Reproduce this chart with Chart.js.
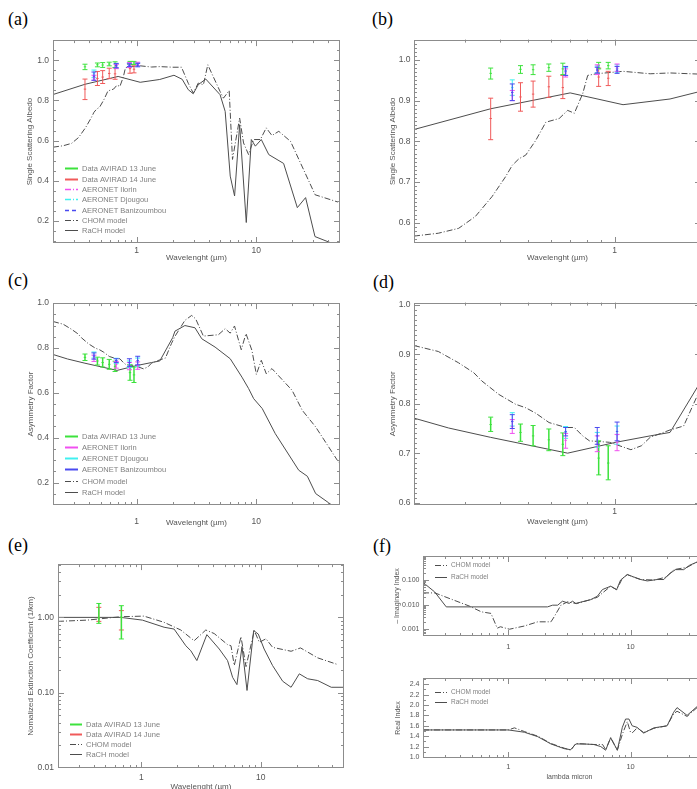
<!DOCTYPE html>
<html>
<head>
<meta charset="utf-8">
<title>Aerosol optical properties</title>
<script src="https://cdn.jsdelivr.net/npm/chart.js@4.4.0/dist/chart.umd.min.js"></script>
<style>
  html, body { margin: 0; padding: 0; background: #fff; overflow: hidden; }
  body { width: 697px; height: 789px; position: relative; }
  canvas { position: absolute; }
  .tag { position: absolute; font-family: "Liberation Serif", serif; font-size: 18px; color: #000; line-height: 1; }
</style>
</head>
<body>
<div class="tag" style="left:8px;top:10px">(a)</div>
<div class="tag" style="left:372px;top:10px">(b)</div>
<div class="tag" style="left:8px;top:271px">(c)</div>
<div class="tag" style="left:373px;top:273px">(d)</div>
<div class="tag" style="left:8px;top:536px">(e)</div>
<div class="tag" style="left:373px;top:537px">(f)</div>

<canvas id="pa"></canvas>
<canvas id="pb"></canvas>
<canvas id="pc"></canvas>
<canvas id="pd"></canvas>
<canvas id="pe"></canvas>
<canvas id="pfTop"></canvas>
<canvas id="pfBot"></canvas>

<script>
// ---- measurement wavelengths (micron)
const aviradWl = [0.37, 0.47, 0.52, 0.59, 0.66, 0.88, 0.95];
const aeronetWl = [0.44, 0.675, 0.87, 1.02];
const extWl = [0.44, 0.68];

// ---- single scattering albedo, AVIRAD
const ssa13Lo  = [0.953, 0.967, 0.964, 0.972, 0.964, 0.978, 0.978];
const ssa13Mid = [0.967, 0.977, 0.976, 0.981, 0.978, 0.986, 0.986];
const ssa13Hi  = [0.980, 0.986, 0.988, 0.990, 0.992, 0.994, 0.994];
const ssa14Lo  = [0.804, 0.874, 0.884, 0.908, 0.905, 0.935, 0.937];
const ssa14Mid = [0.856, 0.909, 0.916, 0.934, 0.932, 0.958, 0.955];
const ssa14Hi  = [0.906, 0.944, 0.948, 0.960, 0.962, 0.980, 0.972];

// ---- single scattering albedo, AERONET
const ssaIlorinLo  = [0.900, 0.958, 0.964, 0.972];
const ssaIlorinMid = [0.912, 0.968, 0.976, 0.980];
const ssaIlorinHi  = [0.925, 0.978, 0.988, 0.990];
const ssaDjougouLo  = [0.913, 0.962, 0.968, 0.970];
const ssaDjougouMid = [0.932, 0.972, 0.977, 0.979];
const ssaDjougouHi  = [0.951, 0.982, 0.985, 0.988];
const ssaBaniLo  = [0.900, 0.962, 0.968, 0.967];
const ssaBaniMid = [0.920, 0.973, 0.975, 0.975];
const ssaBaniHi  = [0.941, 0.984, 0.982, 0.984];

// ---- asymmetry factor, AVIRAD 13 June
const g13Lo  = [0.744, 0.724, 0.715, 0.705, 0.695, 0.656, 0.646];
const g13Mid = [0.758, 0.742, 0.735, 0.727, 0.718, 0.690, 0.680];
const g13Hi  = [0.773, 0.759, 0.756, 0.749, 0.741, 0.725, 0.715];

// ---- asymmetry factor, AERONET
const gIlorinLo  = [0.740, 0.710, 0.703, 0.705];
const gIlorinMid = [0.754, 0.726, 0.718, 0.722];
const gIlorinHi  = [0.768, 0.740, 0.735, 0.738];
const gDjougouLo  = [0.755, 0.730, 0.712, 0.718];
const gDjougouMid = [0.768, 0.742, 0.727, 0.737];
const gDjougouHi  = [0.782, 0.754, 0.742, 0.755];
const gBaniLo  = [0.750, 0.735, 0.718, 0.725];
const gBaniMid = [0.764, 0.744, 0.735, 0.744];
const gBaniHi  = [0.778, 0.752, 0.752, 0.763];

// ---- normalized extinction, AVIRAD
const ext13Lo  = [0.833, 0.517];
const ext13Mid = [0.980, 1.000];
const ext13Hi  = [1.530, 1.430];
const ext14Lo  = [0.885, 0.680];
const ext14Mid = [0.980, 1.000];
const ext14Hi  = [1.360, 1.230];

// ---- models: single scattering albedo
const rachSsaWl = [0.2, 0.37, 0.7, 1.07, 1.56, 2.05, 2.4, 2.7, 2.97, 3.27, 3.78, 4.98, 5.49, 6.05, 6.58, 7.25, 8.24, 9.08, 9.81, 11.0, 12.7, 16.9, 22.0, 25.8, 30.9, 41.0, 50];
const rachSsa   = [0.829, 0.880, 0.919, 0.890, 0.904, 0.925, 0.905, 0.853, 0.833, 0.878, 0.906, 0.828, 0.745, 0.423, 0.324, 0.679, 0.192, 0.605, 0.572, 0.605, 0.530, 0.486, 0.266, 0.316, 0.122, 0.093, 0.080];
const chomSsaWl = [0.2, 0.243, 0.286, 0.327, 0.374, 0.417, 0.44, 0.464, 0.49, 0.531, 0.576, 0.641, 0.686, 0.724, 0.774, 0.806, 0.863, 1.07, 1.33, 1.56, 2.0, 2.37, 2.7, 2.97, 3.27, 3.61, 3.93, 4.98, 5.31, 5.93, 6.32, 7.25, 7.82, 8.61, 9.49, 10.8, 12.1, 13.5, 15.4, 19.3, 31, 48];
const chomSsa   = [0.567, 0.574, 0.586, 0.615, 0.664, 0.713, 0.741, 0.757, 0.766, 0.802, 0.847, 0.856, 0.876, 0.869, 0.917, 0.962, 0.966, 0.972, 0.966, 0.968, 0.965, 0.965, 0.885, 0.836, 0.886, 0.878, 0.977, 0.844, 0.811, 0.849, 0.506, 0.712, 0.588, 0.530, 0.605, 0.605, 0.663, 0.625, 0.646, 0.596, 0.330, 0.294];

// ---- models: asymmetry factor
const rachGWl = [0.2, 0.264, 0.37, 0.686, 1.01, 1.33, 1.56, 2.0, 2.09, 2.53, 3.07, 3.5, 4.52, 6.05, 7.58, 8.62, 9.5, 11.2, 14.4, 22.6, 26.7, 31.3, 41.9, 50];
const rachG   = [0.771, 0.751, 0.732, 0.700, 0.722, 0.735, 0.742, 0.846, 0.875, 0.900, 0.890, 0.841, 0.804, 0.752, 0.670, 0.619, 0.574, 0.530, 0.418, 0.255, 0.228, 0.151, 0.103, 0.080];
const chomGWl = [0.2, 0.243, 0.286, 0.323, 0.345, 0.395, 0.452, 0.49, 0.531, 0.591, 0.677, 0.724, 0.774, 0.817, 0.96, 1.14, 1.24, 1.33, 1.56, 1.74, 1.95, 2.09, 2.53, 2.88, 3.11, 3.61, 4.82, 5.49, 6.05, 6.57, 7.48, 8.19, 9.19, 10.0, 11.0, 12.1, 13.5, 19.9, 24.2, 31.3, 49.2];
const chomG   = [0.918, 0.906, 0.883, 0.863, 0.846, 0.819, 0.799, 0.792, 0.781, 0.762, 0.752, 0.752, 0.735, 0.725, 0.722, 0.707, 0.715, 0.732, 0.747, 0.755, 0.819, 0.852, 0.923, 0.945, 0.930, 0.853, 0.859, 0.886, 0.866, 0.898, 0.792, 0.864, 0.789, 0.682, 0.745, 0.685, 0.708, 0.611, 0.522, 0.448, 0.287];

// ---- models: normalized extinction
const rachExtWl = [0.2, 0.67, 1.02, 1.55, 1.88, 2.36, 2.6, 2.92, 3.54, 4.5, 5.28, 5.82, 6.33, 6.98, 7.69, 8.74, 9.56, 10.7, 12.6, 15.3, 18.0, 21.1, 24.8, 30.1, 39.1, 50];
const rachExt   = [1.00, 1.00, 0.92, 0.74, 0.70, 0.42, 0.36, 0.267, 0.59, 0.38, 0.267, 0.16, 0.128, 0.41, 0.107, 0.667, 0.60, 0.38, 0.229, 0.142, 0.118, 0.178, 0.153, 0.145, 0.118, 0.118];
const chomExtWl = [0.2, 0.352, 0.67, 1.05, 1.55, 2.14, 2.77, 3.47, 4.08, 5.28, 5.64, 6.01, 6.84, 7.54, 8.85, 9.75, 11.1, 12.6, 18.0, 21.6, 30.1, 44.4];
const chomExt   = [0.885, 0.92, 1.02, 1.04, 0.86, 0.68, 0.49, 0.68, 0.61, 0.435, 0.42, 0.23, 0.555, 0.222, 0.667, 0.467, 0.52, 0.40, 0.355, 0.393, 0.29, 0.236];

// ---- models: refractive index
const rachImWl = [0.2, 0.249, 0.31, 2.09, 2.3, 2.53, 2.77, 3.14, 3.35, 3.56, 4.72, 5.35, 5.88, 6.87, 7.69, 8.28, 9.4, 10.6, 12.1, 13.7, 16.5, 18.7, 20.5, 23.3, 27.2, 30.4, 35, 50];
const rachIm   = [0.08, 0.033, 0.0081, 0.0081, 0.0095, 0.0095, 0.0138, 0.0112, 0.0138, 0.0112, 0.016, 0.022, 0.041, 0.056, 0.041, 0.10, 0.167, 0.134, 0.105, 0.092, 0.105, 0.105, 0.17, 0.265, 0.265, 0.40, 0.54, 0.70];
const chomImWl = [0.2, 0.25, 0.48, 0.6, 0.72, 0.81, 0.86, 1.02, 1.35, 1.74, 2.23, 2.37, 2.69, 3.05, 3.6, 4.72, 5.35, 5.9, 6.87, 7.69, 8.55, 9.4, 10.6, 12.1, 15.7, 19.7, 22.6, 29, 35, 50];
const chomIm   = [0.03, 0.03, 0.0087, 0.0051, 0.0044, 0.0011, 0.00126, 0.001, 0.00135, 0.002, 0.002, 0.0032, 0.0095, 0.013, 0.011, 0.016, 0.02, 0.03, 0.056, 0.04, 0.115, 0.167, 0.13, 0.105, 0.10, 0.134, 0.265, 0.33, 0.54, 0.70];
const rachReWl = [0.2, 1.0, 1.35, 1.74, 2.23, 2.86, 3.24, 3.56, 4.17, 5.0, 5.7, 6.25, 6.87, 7.79, 8.56, 9.1, 9.7, 10.3, 11.3, 12.8, 15.5, 19.9, 22.5, 24, 29, 35, 50];
const rachRe   = [1.52, 1.52, 1.476, 1.39, 1.25, 1.16, 1.14, 1.25, 1.25, 1.24, 1.20, 1.13, 1.37, 1.13, 1.57, 1.73, 1.73, 1.60, 1.57, 1.46, 1.56, 1.60, 1.86, 1.95, 1.80, 1.97, 2.10];
const chomReWl = [0.2, 1.0, 1.12, 1.35, 1.74, 2.23, 2.86, 3.24, 3.56, 4.17, 5.0, 5.9, 6.25, 6.87, 7.79, 8.6, 9.4, 10.0, 10.4, 11.3, 12.8, 15.5, 19.9, 22.5, 24, 29, 35, 50];
const chomRe   = [1.52, 1.52, 1.56, 1.49, 1.40, 1.26, 1.17, 1.13, 1.26, 1.25, 1.24, 1.24, 1.14, 1.37, 1.13, 1.45, 1.68, 1.47, 1.47, 1.56, 1.47, 1.55, 1.60, 1.83, 1.88, 1.78, 1.95, 2.10];

// ---- tick values and labels
const xTicksWide = [1, 10];
const xLabelsWide = ['1', '10'];
const xTicksZoom = [1];
const xLabelsZoom = ['1'];
const ssaTicksA = [0.2, 0.4, 0.6, 0.8, 1.0];
const ssaLabelsA = ['0.2', '0.4', '0.6', '0.8', '1.0'];
const ssaTicksB = [0.6, 0.7, 0.8, 0.9, 1.0];
const ssaLabelsB = ['0.6', '0.7', '0.8', '0.9', '1.0'];
const gTicksC = [0.2, 0.4, 0.6, 0.8, 1.0];
const gLabelsC = ['0.2', '0.4', '0.6', '0.8', '1.0'];
const gTicksD = [0.6, 0.7, 0.8, 0.9, 1.0];
const gLabelsD = ['0.6', '0.7', '0.8', '0.9', '1.0'];
const extTicks = [0.01, 0.1, 1];
const extLabels = ['0.01', '0.10', '1.00'];
const imTicks = [0.001, 0.01, 0.1];
const imLabels = ['0.001', '0.010', '0.100'];
const reTicks = [1.0, 1.2, 1.4, 1.6, 1.8, 2.0, 2.2, 2.4];
const reLabels = ['1.0', '1.2', '1.4', '1.6', '1.8', '2.0', '2.2', '2.4'];

// ---- colours / styles
const GREEN = '#3de23d', RED = '#f05a5a', MAGENTA = '#f050f0', CYAN = '#40f0f0', BLUE = '#4a4af0';
const MODEL = '#4d4d4d';
const DASHDOT = [6, 2, 1, 2];
const FONT = 'Liberation Sans';
const TEXT = '#555';

function curve(wl, vals, dashed) {
  return {
    data: wl.map((w, i) => ({ x: w, y: vals[i] })),
    borderColor: MODEL, borderWidth: 1,
    borderDash: dashed ? DASHDOT : [],
    pointRadius: 0, fill: false, tension: 0
  };
}

// error bars: lo - mid - hi per wavelength, broken with a null
function errBars(wl, lo, mid, hi, color, width) {
  const pts = [];
  wl.forEach((w, i) => {
    pts.push({ x: w, y: lo[i] }, { x: w, y: mid[i] }, { x: w, y: hi[i] }, { x: w, y: null });
  });
  return {
    data: pts, borderColor: color, borderWidth: width || 1, spanGaps: false,
    pointStyle: 'line', pointBorderColor: color, pointBorderWidth: 1,
    pointRadius: ctx => (ctx.dataIndex % 4 === 1 ? 1.2 : 2.5)
  };
}

// IDL style frame: box with inward ticks on all four sides
const idlFrame = {
  id: 'idlFrame',
  afterDatasetsDraw(chart, args, o) {
    const { ctx, chartArea: a, scales } = chart;
    ctx.save();
    ctx.strokeStyle = '#8c8c8c';
    ctx.lineWidth = 1;
    ctx.setLineDash([]);
    ctx.strokeRect(Math.round(a.left) + 0.5, Math.round(a.top) + 0.5, Math.round(a.width) - 1, Math.round(a.height) - 1);
    ctx.beginPath();
    tickVals(scales.x, o.xMinor).forEach(t => {
      const p = Math.round(scales.x.getPixelForValue(t.v)) + 0.5;
      if (p < a.left + 1 || p > a.right - 1) return;
      const len = t.major ? 6 : 3;
      ctx.moveTo(p, a.bottom); ctx.lineTo(p, a.bottom - len);
      ctx.moveTo(p, a.top); ctx.lineTo(p, a.top + len);
    });
    tickVals(scales.y, o.yMinor).forEach(t => {
      const p = Math.round(scales.y.getPixelForValue(t.v)) + 0.5;
      if (p < a.top + 1 || p > a.bottom - 1) return;
      const len = t.major ? 6 : 3;
      ctx.moveTo(a.left, p); ctx.lineTo(a.left + len, p);
      ctx.moveTo(a.right, p); ctx.lineTo(a.right - len, p);
    });
    ctx.stroke();
    ctx.restore();
  }
};

function tickVals(scale, minorStep) {
  const out = [];
  const min = scale.min, max = scale.max;
  if (scale.type === 'logarithmic') {
    for (let e = Math.floor(Math.log10(min)); e <= Math.ceil(Math.log10(max)); e++) {
      for (let k = 1; k <= 9; k++) {
        const v = k * Math.pow(10, e);
        if (v >= min * 0.999 && v <= max * 1.001) out.push({ v, major: k === 1 });
      }
    }
  } else {
    const majors = scale.ticks.map(t => t.value);
    for (let i = Math.ceil(min / minorStep - 1e-6); i * minorStep <= max + 1e-9; i++) {
      const v = i * minorStep;
      out.push({ v, major: majors.some(m => Math.abs(m - v) < 1e-6) });
    }
  }
  return out;
}

// legend drawn inside the plot box
const idlLegend = {
  id: 'idlLegend',
  afterDraw(chart, args, o) {
    if (!o.items) return;
    const { ctx, chartArea: a } = chart;
    ctx.save();
    ctx.font = (o.size || 7.5) + 'px "' + FONT + '"';
    ctx.textBaseline = 'middle';
    o.items.forEach((it, i) => {
      const y = Math.round(a.top + o.y + i * o.step) + 0.5;
      const x0 = a.left + o.x;
      ctx.strokeStyle = it.color;
      ctx.lineWidth = it.width || 1;
      ctx.setLineDash(it.dash || []);
      ctx.beginPath(); ctx.moveTo(x0, y); ctx.lineTo(x0 + o.len, y); ctx.stroke();
      ctx.setLineDash([]);
      ctx.fillStyle = '#808080';
      ctx.fillText(it.label, x0 + o.len + 4, y);
    });
    ctx.restore();
  }
};

function axis(o) {
  return {
    type: o.log ? 'logarithmic' : 'linear',
    min: o.min, max: o.max,
    grid: { display: false, drawTicks: false },
    border: { display: false },
    afterBuildTicks: s => { s.ticks = o.ticks.map(v => ({ value: v })); },
    afterFit: s => { if (s.isHorizontal()) s.height = o.size; else s.width = o.size; },
    ticks: {
      autoSkip: false, maxRotation: 0, minRotation: 0, padding: o.pad, color: TEXT,
      font: { family: FONT, size: o.font || 8.5 },
      callback: (v, i) => o.labels[i]
    },
    title: {
      display: !!o.title, text: o.title, color: TEXT,
      font: { family: FONT, size: o.titleFont || 8 },
      padding: o.titlePad || 0
    }
  };
}

// g: box = [left, top, right, bottom] of the plot area in page pixels
function panel(id, g, datasets, xo, yo, frame, legend) {
  const cv = document.getElementById(id);
  const left = g.box[0] - g.yw, top = g.box[1] - g.pt;
  const w = g.box[2] + g.pr - left, h = g.box[3] + g.xh - top;
  cv.style.left = left + 'px';
  cv.style.top = top + 'px';
  cv.width = w; cv.height = h;
  cv.style.width = w + 'px'; cv.style.height = h + 'px';
  xo.size = g.xh; yo.size = g.yw;
  new Chart(cv, {
    type: 'line',
    data: { datasets },
    options: {
      responsive: false, animation: false, devicePixelRatio: 1,
      events: [],
      layout: { padding: { top: g.pt, right: g.pr, left: 0, bottom: 0 } },
      plugins: {
        legend: { display: false }, tooltip: { enabled: false },
        idlFrame: frame, idlLegend: legend || {}
      },
      scales: { x: axis(xo), y: axis(yo) }
    },
    plugins: [idlFrame, idlLegend]
  });
}

const legendSsa = [
  { label: 'Data AVIRAD 13 June', color: GREEN, width: 2 },
  { label: 'Data AVIRAD 14 June', color: RED, width: 2 },
  { label: 'AERONET Ilorin', color: MAGENTA, width: 1.5, dash: DASHDOT },
  { label: 'AERONET Djougou', color: CYAN, width: 1.5, dash: DASHDOT },
  { label: 'AERONET Banizoumbou', color: BLUE, width: 1.5, dash: [4, 3] },
  { label: 'CHOM model', color: MODEL, dash: DASHDOT },
  { label: 'RaCH model', color: MODEL }
];
const legendG = [
  { label: 'Data AVIRAD 13 June', color: GREEN, width: 2 },
  { label: 'AERONET Ilorin', color: MAGENTA, width: 2 },
  { label: 'AERONET Djougou', color: CYAN, width: 2 },
  { label: 'AERONET Banizoumbou', color: BLUE, width: 2 },
  { label: 'CHOM model', color: MODEL, dash: DASHDOT },
  { label: 'RaCH model', color: MODEL }
];
const legendExt = [
  { label: 'Data AVIRAD 13 June', color: GREEN, width: 2 },
  { label: 'Data AVIRAD 14 June', color: RED, width: 2 },
  { label: 'CHOM model', color: MODEL, dash: DASHDOT },
  { label: 'RaCH model', color: MODEL }
];
const legendModels = [
  { label: 'CHOM model', color: MODEL, dash: DASHDOT },
  { label: 'RaCH model', color: MODEL }
];

function ssaSets() {
  return [
    errBars(aeronetWl, ssaBaniLo, ssaBaniMid, ssaBaniHi, BLUE),
    errBars(aeronetWl, ssaIlorinLo, ssaIlorinMid, ssaIlorinHi, MAGENTA),
    errBars(aeronetWl, ssaDjougouLo, ssaDjougouMid, ssaDjougouHi, CYAN),
    errBars(aviradWl, ssa13Lo, ssa13Mid, ssa13Hi, GREEN),
    errBars(aviradWl, ssa14Lo, ssa14Mid, ssa14Hi, RED),
    curve(chomSsaWl, chomSsa, true),
    curve(rachSsaWl, rachSsa, false)
  ];
}
function gSets() {
  return [
    errBars(aeronetWl, gBaniLo, gBaniMid, gBaniHi, BLUE),
    errBars(aeronetWl, gIlorinLo, gIlorinMid, gIlorinHi, MAGENTA),
    errBars(aeronetWl, gDjougouLo, gDjougouMid, gDjougouHi, CYAN),
    errBars(aviradWl, g13Lo, g13Mid, g13Hi, GREEN, 1.5),
    curve(chomGWl, chomG, true),
    curve(rachGWl, rachG, false)
  ];
}

const WL_TITLE = 'Wavelenght (\u00b5m)';

// (a) single scattering albedo, full range
panel('pa', { box: [53, 39, 340, 243], yw: 53, xh: 22, pt: 8, pr: 5 }, ssaSets(),
  { log: true, min: 0.2, max: 50, ticks: xTicksWide, labels: xLabelsWide, pad: 2.6, title: WL_TITLE, titlePad: 2 },
  { min: 0.09, max: 1.1, ticks: ssaTicksA, labels: ssaLabelsA, pad: 4, title: 'Single Scattering Albedo', titlePad: 25 },
  { yMinor: 0.05 },
  { items: legendSsa, x: 12, y: 128.3, step: 10.3, len: 13 });

// (b) single scattering albedo, zoom
panel('pb', { box: [414, 39, 701, 243], yw: 30, xh: 22, pt: 8, pr: 5 }, ssaSets(),
  { log: true, min: 0.2, max: 2, ticks: xTicksZoom, labels: xLabelsZoom, pad: 2.6, title: WL_TITLE, titlePad: 2 },
  { min: 0.55, max: 1.05, ticks: ssaTicksB, labels: ssaLabelsB, pad: 3.5, title: 'Single Scattering Albedo', titlePad: 4 },
  { yMinor: 0.01 });

// (c) asymmetry factor, full range (tick labels sit on the title line)
panel('pc', { box: [53, 302, 340, 505], yw: 53, xh: 24, pt: 8, pr: 5 }, gSets(),
  { log: true, min: 0.2, max: 50, ticks: xTicksWide, labels: xLabelsWide, pad: 11.5, title: WL_TITLE, titlePad: 1.5 },
  { min: 0.1, max: 1.0, ticks: gTicksC, labels: gLabelsC, pad: 4, title: 'Asymmetry Factor', titlePad: 25.5 },
  { yMinor: 0.05 },
  { items: legendG, x: 12, y: 133, step: 11.1, len: 13 });

// (d) asymmetry factor, zoom
panel('pd', { box: [414, 302, 701, 505], yw: 30, xh: 22, pt: 8, pr: 5 }, gSets(),
  { log: true, min: 0.2, max: 2, ticks: xTicksZoom, labels: xLabelsZoom, pad: 1.6, title: WL_TITLE, titlePad: 0 },
  { min: 0.595, max: 1.005, ticks: gTicksD, labels: gLabelsD, pad: 3.5, title: 'Asymmetry Factor', titlePad: 4 },
  { yMinor: 0.01 });

// (e) normalized extinction
panel('pe', { box: [58, 563, 344, 768], yw: 58, xh: 24, pt: 8, pr: 5 }, [
    errBars(extWl, ext13Lo, ext13Mid, ext13Hi, GREEN, 1.5),
    errBars(extWl, ext14Lo, ext14Mid, ext14Hi, RED),
    curve(chomExtWl, chomExt, true),
    curve(rachExtWl, rachExt, false)
  ],
  { log: true, min: 0.2, max: 50, ticks: xTicksWide, labels: xLabelsWide, pad: 4.2, title: WL_TITLE, titlePad: 0.5 },
  { log: true, min: 0.01, max: 5.1, ticks: extTicks, labels: extLabels, pad: 4, title: 'Nomalized Extinction Coefficient (1/km)', titlePad: 26 },
  {},
  { items: legendExt, x: 12, y: 160.3, step: 9.8, len: 12 });

// (f) refractive index, imaginary part
panel('pfTop', { box: [423, 556, 716, 636], yw: 39, xh: 18, pt: 8, pr: 5 }, [
    curve(chomImWl, chomIm, true),
    curve(rachImWl, rachIm, false)
  ],
  { log: true, min: 0.2, max: 50, ticks: xTicksWide, labels: xLabelsWide, pad: 6.5, font: 7.5 },
  { log: true, min: 0.00053, max: 0.95, ticks: imTicks, labels: imLabels, pad: 3.5, font: 7, title: '\u2013 Imaginary Index', titleFont: 7, titlePad: 8.5 },
  {},
  { items: legendModels, x: 12, y: 8.5, step: 12, len: 12, size: 6.5 });

// (f) refractive index, real part
panel('pfBot', { box: [423, 678, 716, 758], yw: 39, xh: 26, pt: 8, pr: 5 }, [
    curve(chomReWl, chomRe, true),
    curve(rachReWl, rachRe, false)
  ],
  { log: true, min: 0.2, max: 50, ticks: xTicksWide, labels: xLabelsWide, pad: 4.5, font: 7.5, title: 'lambda micron', titleFont: 7, titlePad: 2.5 },
  { min: 0.98, max: 2.52, ticks: reTicks, labels: reLabels, pad: 3.5, font: 7, title: 'Real Index', titleFont: 7, titlePad: 9.5 },
  { yMinor: 0.1 },
  { items: legendModels, x: 12, y: 14, step: 10, len: 12, size: 6.5 });
</script>
</body>
</html>
